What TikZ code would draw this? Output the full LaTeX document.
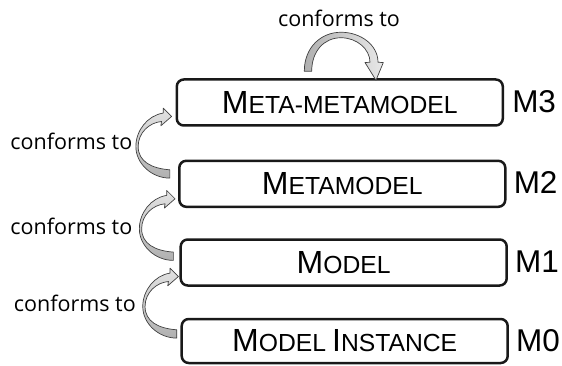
\documentclass[tikz,border=0pt]{standalone}
\usepackage{fontspec}
\setmainfont{Liberation Sans}
\newfontfamily\cfont{Open Sans}
\usetikzlibrary{calc}
\newcommand\BigC[1]{{\fontsize{32}{36}\selectfont #1}}
\newcommand\SmC[1]{{\fontsize{24.7}{30}\selectfont #1}}
\tikzset{
  layerbox/.style={draw=black!90, line width=2.5pt, rounded corners=7pt,
    minimum width=326pt, minimum height=46pt, inner sep=0pt, fill=white},
  lvl/.style={anchor=west, inner sep=0pt, font=\fontsize{31.5}{36}\selectfont},
  ctext/.style={inner sep=0pt, font=\cfont\fontsize{21.5}{24}\selectfont},
  blockarrow/.style={draw=black!75, line width=0.7pt, line join=round},
  pics/leftarr/.style={code={
    \begin{scope}[yscale=-1]
    \path[blockarrow, shading=axis, top color=gray!22, bottom color=gray!62]
      (0,0) -- (-8.4,8.4) -- (-8.4,3.4)
      .. controls (-24,1) and (-35.7,-14) .. (-35.7,-30)
      .. controls (-35.7,-47) and (-20,-61.6) .. (-1.7,-61.6)
      -- (-1.7,-53.3)
      .. controls (-20,-52) and (-33.4,-45) .. (-33.4,-30)
      .. controls (-33.4,-16) and (-22,-6) .. (-10,-5)
      -- (-10.7,-9.3) -- cycle;
    \end{scope}
  }},
  pics/toparr/.style={code={
    \begin{scope}[yscale=-1]
    \path[blockarrow, shading=axis, left color=gray!62, right color=gray!18]
      (-36.7,0)
      .. controls (-36.7,24) and (-20,39) .. (0,39)
      .. controls (20,39) and (37,26) .. (37,9)
      -- (42.3,8.7) -- (35,-9) -- (24,8.7) -- (29,9)
      .. controls (29,22) and (16,33.5) .. (0,33.5)
      .. controls (-17,33.5) and (-29.3,20) .. (-29.3,0)
      -- cycle;
    \end{scope}
  }}
}
\begin{document}
\begin{tikzpicture}[x=1pt,y=-1pt]
\useasboundingbox (0,0) rectangle (562,366);
% boxes
\node[layerbox] (m3) at (339.8,102.5) {\BigC{M}\SmC{ETA-METAMODEL}};
\node[layerbox] (m2) at (342.3,183.8) {\BigC{M}\SmC{ETAMODEL}};
\node[layerbox] (m1) at (343.7,262.5) {\BigC{M}\SmC{ODEL}};
\node[layerbox, minimum height=44pt] (m0) at (344.7,341) {\BigC{M}\SmC{ODEL}\hspace{6pt}\BigC{I}\SmC{NSTANCE}};
% level labels
\node[lvl] (l3) at ($(m3.east)+(8,-1)$) {M3};
\node[lvl] (l2) at ($(m2.east)+(7,-1)$) {M2};
\node[lvl] (l1) at ($(m1.east)+(7,-1)$) {M1};
\node[lvl] (l0) at ($(m0.east)+(7,0)$) {M0};
% arrows
\coordinate (t3) at ($(m3.west)+(-4,14)$);
\coordinate (t2) at ($(m2.west)+(-3,15)$);
\coordinate (t1) at ($(m1.west)+(-1,14)$);
\coordinate (tt) at ($(m3.north)+(1.2,-7)$);
\pic at (t3) {leftarr};
\pic at (t2) {leftarr};
\pic at (t1) {leftarr};
\pic at (tt) {toparr};
% labels
\node[ctext, anchor=east] (c3) at (132.5,141) {conforms to};
\node[ctext, anchor=east] (c2) at (132.5,226) {conforms to};
\node[ctext, anchor=east] (c1) at (136,303) {conforms to};
\node[ctext] (ct) at (339,18) {conforms to};
\end{tikzpicture}
\end{document}
